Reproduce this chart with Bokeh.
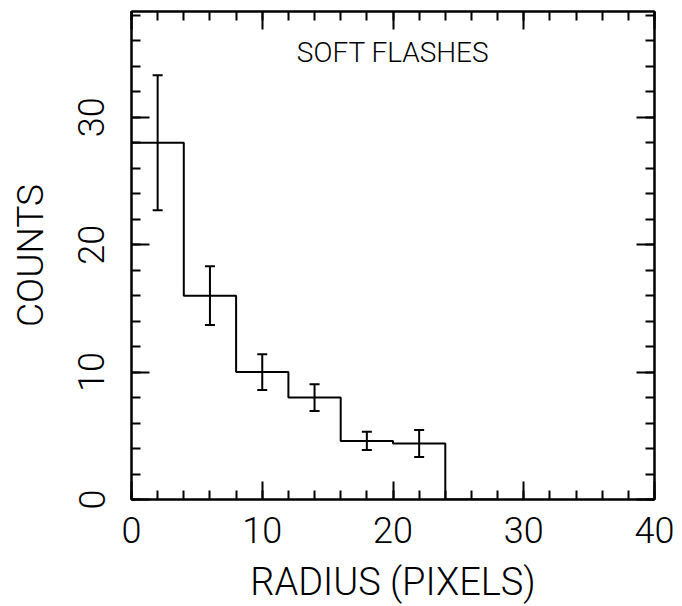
from bokeh.plotting import figure
from bokeh.models import Range1d, LinearAxis, Whisker, TeeHead, ColumnDataSource, FixedTicker
from bokeh.core.properties import value
from bokeh.embed import file_html
from bokeh.resources import INLINE

# ---- data ----
bin_left = [0, 4, 8, 12, 16, 20, 24]
bin_width = 4
counts = [28, 16, 10, 8, 4.6, 4.4, 0]
errors = [5.3, 2.3, 1.4, 1.05, 0.72, 1.06, 0]
x_ticks = [0, 10, 20, 30, 40]
y_ticks = [0, 10, 20, 30]
minor_ticks = list(range(0, 41, 2))
title_text = "SOFT FLASHES"
x_title = "RADIUS (PIXELS)"
y_title = "COUNTS"

FONT = "Roboto Light"
LW = 2

p = figure(frame_width=523, frame_height=488, min_border_left=131, min_border_right=28,
           min_border_top=11, min_border_bottom=107,
           x_range=Range1d(0, 40), y_range=Range1d(0, 38.3),
           output_backend="svg", toolbar_location=None, tools="",
           x_axis_location=None, y_axis_location=None)
p.background_fill_color = "white"
p.border_fill_color = "white"
p.xgrid.visible = False
p.ygrid.visible = False
p.outline_line_color = "black"
p.outline_line_width = LW


def style_axis(ax, ticks, labels=True):
    ax.ticker = FixedTicker(ticks=ticks, minor_ticks=minor_ticks)
    ax.axis_line_color = "black"
    ax.axis_line_width = LW
    ax.major_tick_in = 18
    ax.major_tick_out = 0
    ax.minor_tick_in = 9
    ax.minor_tick_out = 0
    ax.major_tick_line_width = LW
    ax.minor_tick_line_width = LW
    ax.major_tick_line_color = "black"
    ax.minor_tick_line_color = "black"
    ax.major_label_text_font = FONT
    ax.major_label_text_font_size = "36px"
    ax.major_label_text_color = "black" if labels else None
    ax.axis_label_text_font = FONT
    ax.axis_label_text_font_size = "38px"
    ax.axis_label_text_font_style = "normal"
    ax.axis_label_text_color = "black"


xb = LinearAxis()
style_axis(xb, x_ticks)
xb.axis_label = x_title
xb.major_label_standoff = 17
xb.axis_label_standoff = 14
p.add_layout(xb, "below")

xt = LinearAxis()
style_axis(xt, x_ticks, labels=False)
p.add_layout(xt, "above")

yl = LinearAxis()
style_axis(yl, y_ticks)
yl.axis_label = y_title
yl.axis_label_text_font_size = "37px"
yl.major_label_orientation = "vertical"
yl.major_label_standoff = 27
yl.axis_label_standoff = 24
p.add_layout(yl, "left")

yr = LinearAxis()
style_axis(yr, y_ticks, labels=False)
p.add_layout(yr, "right")

# histogram outline
edges = bin_left + [bin_left[-1] + bin_width]
step_y = counts + [counts[-1]]
p.step(x=edges, y=step_y, mode="after", line_color="black", line_width=LW)

# error bars
centers = [b + bin_width / 2 for b in bin_left]
idx = [i for i in range(len(counts)) if errors[i] > 0]
src = ColumnDataSource(dict(
    base=[centers[i] for i in idx],
    upper=[counts[i] + errors[i] for i in idx],
    lower=[counts[i] - errors[i] for i in idx],
))
w = Whisker(source=src, base="base", upper="upper", lower="lower", dimension="height",
            line_color="black", line_width=LW,
            upper_head=TeeHead(size=10, line_color="black", line_width=LW),
            lower_head=TeeHead(size=10, line_color="black", line_width=LW))
p.add_layout(w)

p.text(x=[20], y=[35.1], text=[title_text], text_font=value(FONT), text_font_size="28px",
       text_align="center", text_baseline="alphabetic", text_color="black")

open("out.html", "w").write(file_html(p, INLINE))
